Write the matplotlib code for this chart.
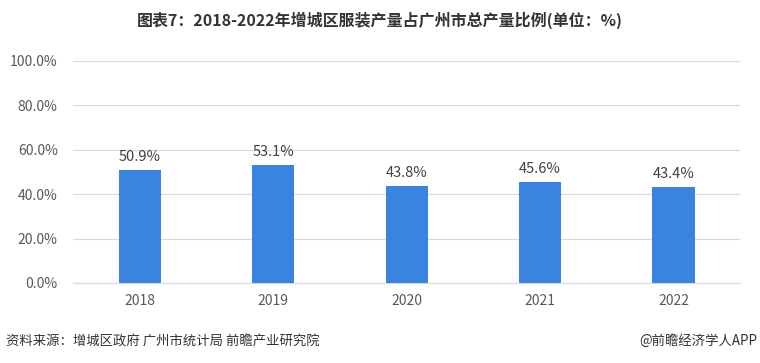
import matplotlib
matplotlib.use("Agg")
import matplotlib.pyplot as plt
from matplotlib.ticker import FuncFormatter

plt.rcParams['font.family'] = ['Noto Sans CJK SC', 'DejaVu Sans']

years = ['2018', '2019', '2020', '2021', '2022']
share = [50.9, 53.1, 43.8, 45.6, 43.4]
yticks = [0, 20, 40, 60, 80, 100]

fig = plt.figure(figsize=(7.6, 3.63), dpi=100)
ax = fig.add_axes([0.096, 0.2204, 0.878, 0.612])

bars = ax.bar(years, share, width=0.315, color='#3A84E0', zorder=3)
for b, v in zip(bars, share):
    ax.text(b.get_x() + b.get_width() / 2, v + 2.5, f'{v:.1f}%',
            ha='center', va='bottom', fontsize=10.5, color='#404040')

ax.set_ylim(0, 100)
ax.set_xlim(-0.5, 4.5)
ax.set_yticks(yticks)
ax.yaxis.set_major_formatter(FuncFormatter(lambda v, p: f'{v:.1f}%'))
ax.grid(axis='y', color='#d9d9d9', linewidth=0.8, zorder=0)
for s in ['top', 'right', 'left']:
    ax.spines[s].set_visible(False)
ax.spines['bottom'].set_color('#d9d9d9')
ax.tick_params(axis='both', length=0, labelsize=10, colors='#595959')
ax.tick_params(axis='y', pad=11)
ax.tick_params(axis='x', pad=8)

fig.text(0.5, 0.945, '图表7：2018-2022年增城区服装产量占广州市总产量比例(单位：%)',
         ha='center', va='center', fontsize=11.5, fontweight='bold', color='#333333')
fig.text(0.008, 0.06, '资料来源：增城区政府 广州市统计局 前瞻产业研究院',
         ha='left', va='center', fontsize=9.6, color='#333333')
fig.text(0.997, 0.06, '@前瞻经济学人APP',
         ha='right', va='center', fontsize=9.6, color='#333333')

fig.savefig('out.png', dpi=100)
